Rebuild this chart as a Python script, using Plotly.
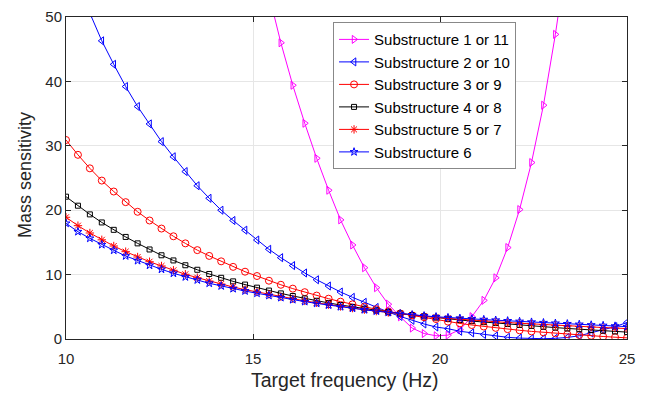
import numpy as np
import plotly.graph_objects as go

# Target frequency grid (48 samples from 10 to 25 Hz)
freq = np.linspace(10, 25, 48)

names = ["Substructure 1 or 11", "Substructure 2 or 10", "Substructure 3 or 9",
         "Substructure 4 or 8", "Substructure 5 or 7", "Substructure 6"]

s1_11 = [None]*16 + [61, 53.3, 46.0, 39.4, 33.5, 28.06, 23.1, 18.5, 14.6, 11.07, 7.97, 5.4,
                     3.45, 1.7, 0.85, 0.5, 0.6, 1.45, 3.47, 6.0, 9.5, 14.2, 20.1, 27.4,
                     36.3, 47.3, 60] + [None]*5

s2_10 = [61, 55.5, 50.6, 46.3, 42.65, 39.2, 36.1, 33.4, 30.65, 28.3, 26.0, 23.8,
         21.85, 20.0, 18.4, 16.9, 15.37, 13.93, 12.63, 11.4, 10.25, 9.2, 8.23, 7.3,
         6.47, 5.7, 4.9, 4.19, 3.5, 2.9, 2.33, 1.86, 1.6, 1.2, 0.95, 0.7,
         0.47, 0.26, 0.14, 0.07, 0.05, 0.1, 0.24, 0.5, 0.93, 1.4, 1.91, 2.57]

s3_9 = [30.9, 28.6, 26.5, 24.6, 22.9, 21.25, 19.75, 18.4, 17.15, 15.95, 14.85, 13.8,
        12.9, 12.06, 11.2, 10.45, 9.78, 9.05, 8.42, 7.82, 7.27, 6.74, 6.26, 5.8,
        5.38, 4.99, 4.62, 4.28, 3.96, 3.66, 3.38, 3.1, 2.7, 2.42, 2.17, 1.94,
        1.73, 1.53, 1.35, 1.18, 1.03, 0.88, 0.75, 0.62, 0.5, 0.39, 0.28, 0.18]

s4_8 = [22.1, 20.7, 19.35, 18.1, 16.95, 15.85, 14.85, 13.9, 13.0, 12.2, 11.45, 10.75,
        10.1, 9.5, 8.95, 8.45, 7.97, 7.52, 7.08, 6.68, 6.3, 5.94, 5.6, 5.28,
        4.98, 4.7, 4.44, 4.19, 3.95, 3.73, 3.52, 3.32, 3.13, 2.95, 2.78, 2.62,
        2.47, 2.32, 2.18, 2.04, 1.9, 1.77, 1.64, 1.52, 1.4, 1.29, 1.18, 1.07]

s5_7 = [18.9, 17.6, 16.46, 15.4, 14.44, 13.56, 12.73, 12.0, 11.34, 10.67, 10.05, 9.52,
        9.0, 8.54, 8.07, 7.66, 7.3, 6.93, 6.58, 6.24, 5.92, 5.62, 5.33, 5.06,
        4.8, 4.56, 4.33, 4.12, 3.92, 3.72, 3.54, 3.37, 3.2, 3.05, 2.92, 2.8,
        2.68, 2.56, 2.45, 2.34, 2.23, 2.13, 2.04, 1.95, 1.86, 1.78, 1.7, 1.62]

s6 = [17.96, 16.66, 15.63, 14.64, 13.77, 12.89, 12.16, 11.44, 10.82, 10.2, 9.63, 9.16,
      8.65, 8.23, 7.81, 7.45, 7.1, 6.75, 6.42, 6.1, 5.8, 5.52, 5.25, 5.0,
      4.76, 4.53, 4.32, 4.12, 3.93, 3.76, 3.6, 3.45, 3.32, 3.22, 3.12, 3.02,
      2.92, 2.82, 2.72, 2.62, 2.53, 2.44, 2.36, 2.27, 2.18, 2.1, 2.01, 1.92]

x_title = "Target frequency (Hz)"
y_title = "Mass sensitivity"

series = [s1_11, s2_10, s3_9, s4_8, s5_7, s6]
colors = ["#FF00FF", "#0000FF", "#FF0000", "#000000", "#FF0000", "#0000FF"]
symbols = ["triangle-right-open", "triangle-left-open", "circle-open",
           "square-open", "asterisk-open", "star-open"]
sizes = [7, 7, 7, 5, 7, 6]

fig = go.Figure()
for name, ys, c, sym, sz in zip(names, series, colors, symbols, sizes):
    fig.add_trace(go.Scatter(
        x=freq, y=ys, name=name, mode="lines+markers",
        line=dict(color=c, width=1),
        marker=dict(symbol=sym, size=sz, color=c, line=dict(color=c, width=1)),
    ))

FONT = "Liberation Sans, Arial"
axis_common = dict(
    showline=True, linecolor="#262626", linewidth=1, mirror="ticks",
    ticks="inside", ticklen=5, tickcolor="#262626",
    showgrid=True, gridcolor="#E6E6E6", gridwidth=1, zeroline=False,
    automargin=False,
    tickfont=dict(family=FONT, size=15, color="#262626"),
)

fig.update_xaxes(range=[10, 25], tickvals=[10, 15, 20, 25], ticklabelstandoff=6,
                 **axis_common)
fig.update_yaxes(range=[0, 50], tickvals=[0, 10, 20, 30, 40, 50],
                 **axis_common)

fig.add_annotation(text=x_title, xref="paper", yref="paper", x=0.497, y=-0.128,
                   xanchor="center", yanchor="middle", showarrow=False,
                   font=dict(family=FONT, size=19.5, color="#262626"))
fig.add_annotation(text=y_title, xref="paper", yref="paper", x=-0.072, y=0.508,
                   xanchor="center", yanchor="middle", showarrow=False, textangle=-90,
                   font=dict(family=FONT, size=18, color="#262626"))

# page body adds an 8px offset; margins compensate so the plot area sits at 66..627 x 17..339
fig.update_layout(
    width=646, height=398,
    margin=dict(l=58, r=27, t=9, b=67),
    paper_bgcolor="white", plot_bgcolor="white",
    showlegend=True,
    legend=dict(x=0.476, y=0.984, xanchor="left", yanchor="top",
                bgcolor="white", bordercolor="#888888", borderwidth=1,
                font=dict(family=FONT, size=15, color="#000000"),
                tracegroupgap=0, itemwidth=30),
)

fig.write_html("out.html")
